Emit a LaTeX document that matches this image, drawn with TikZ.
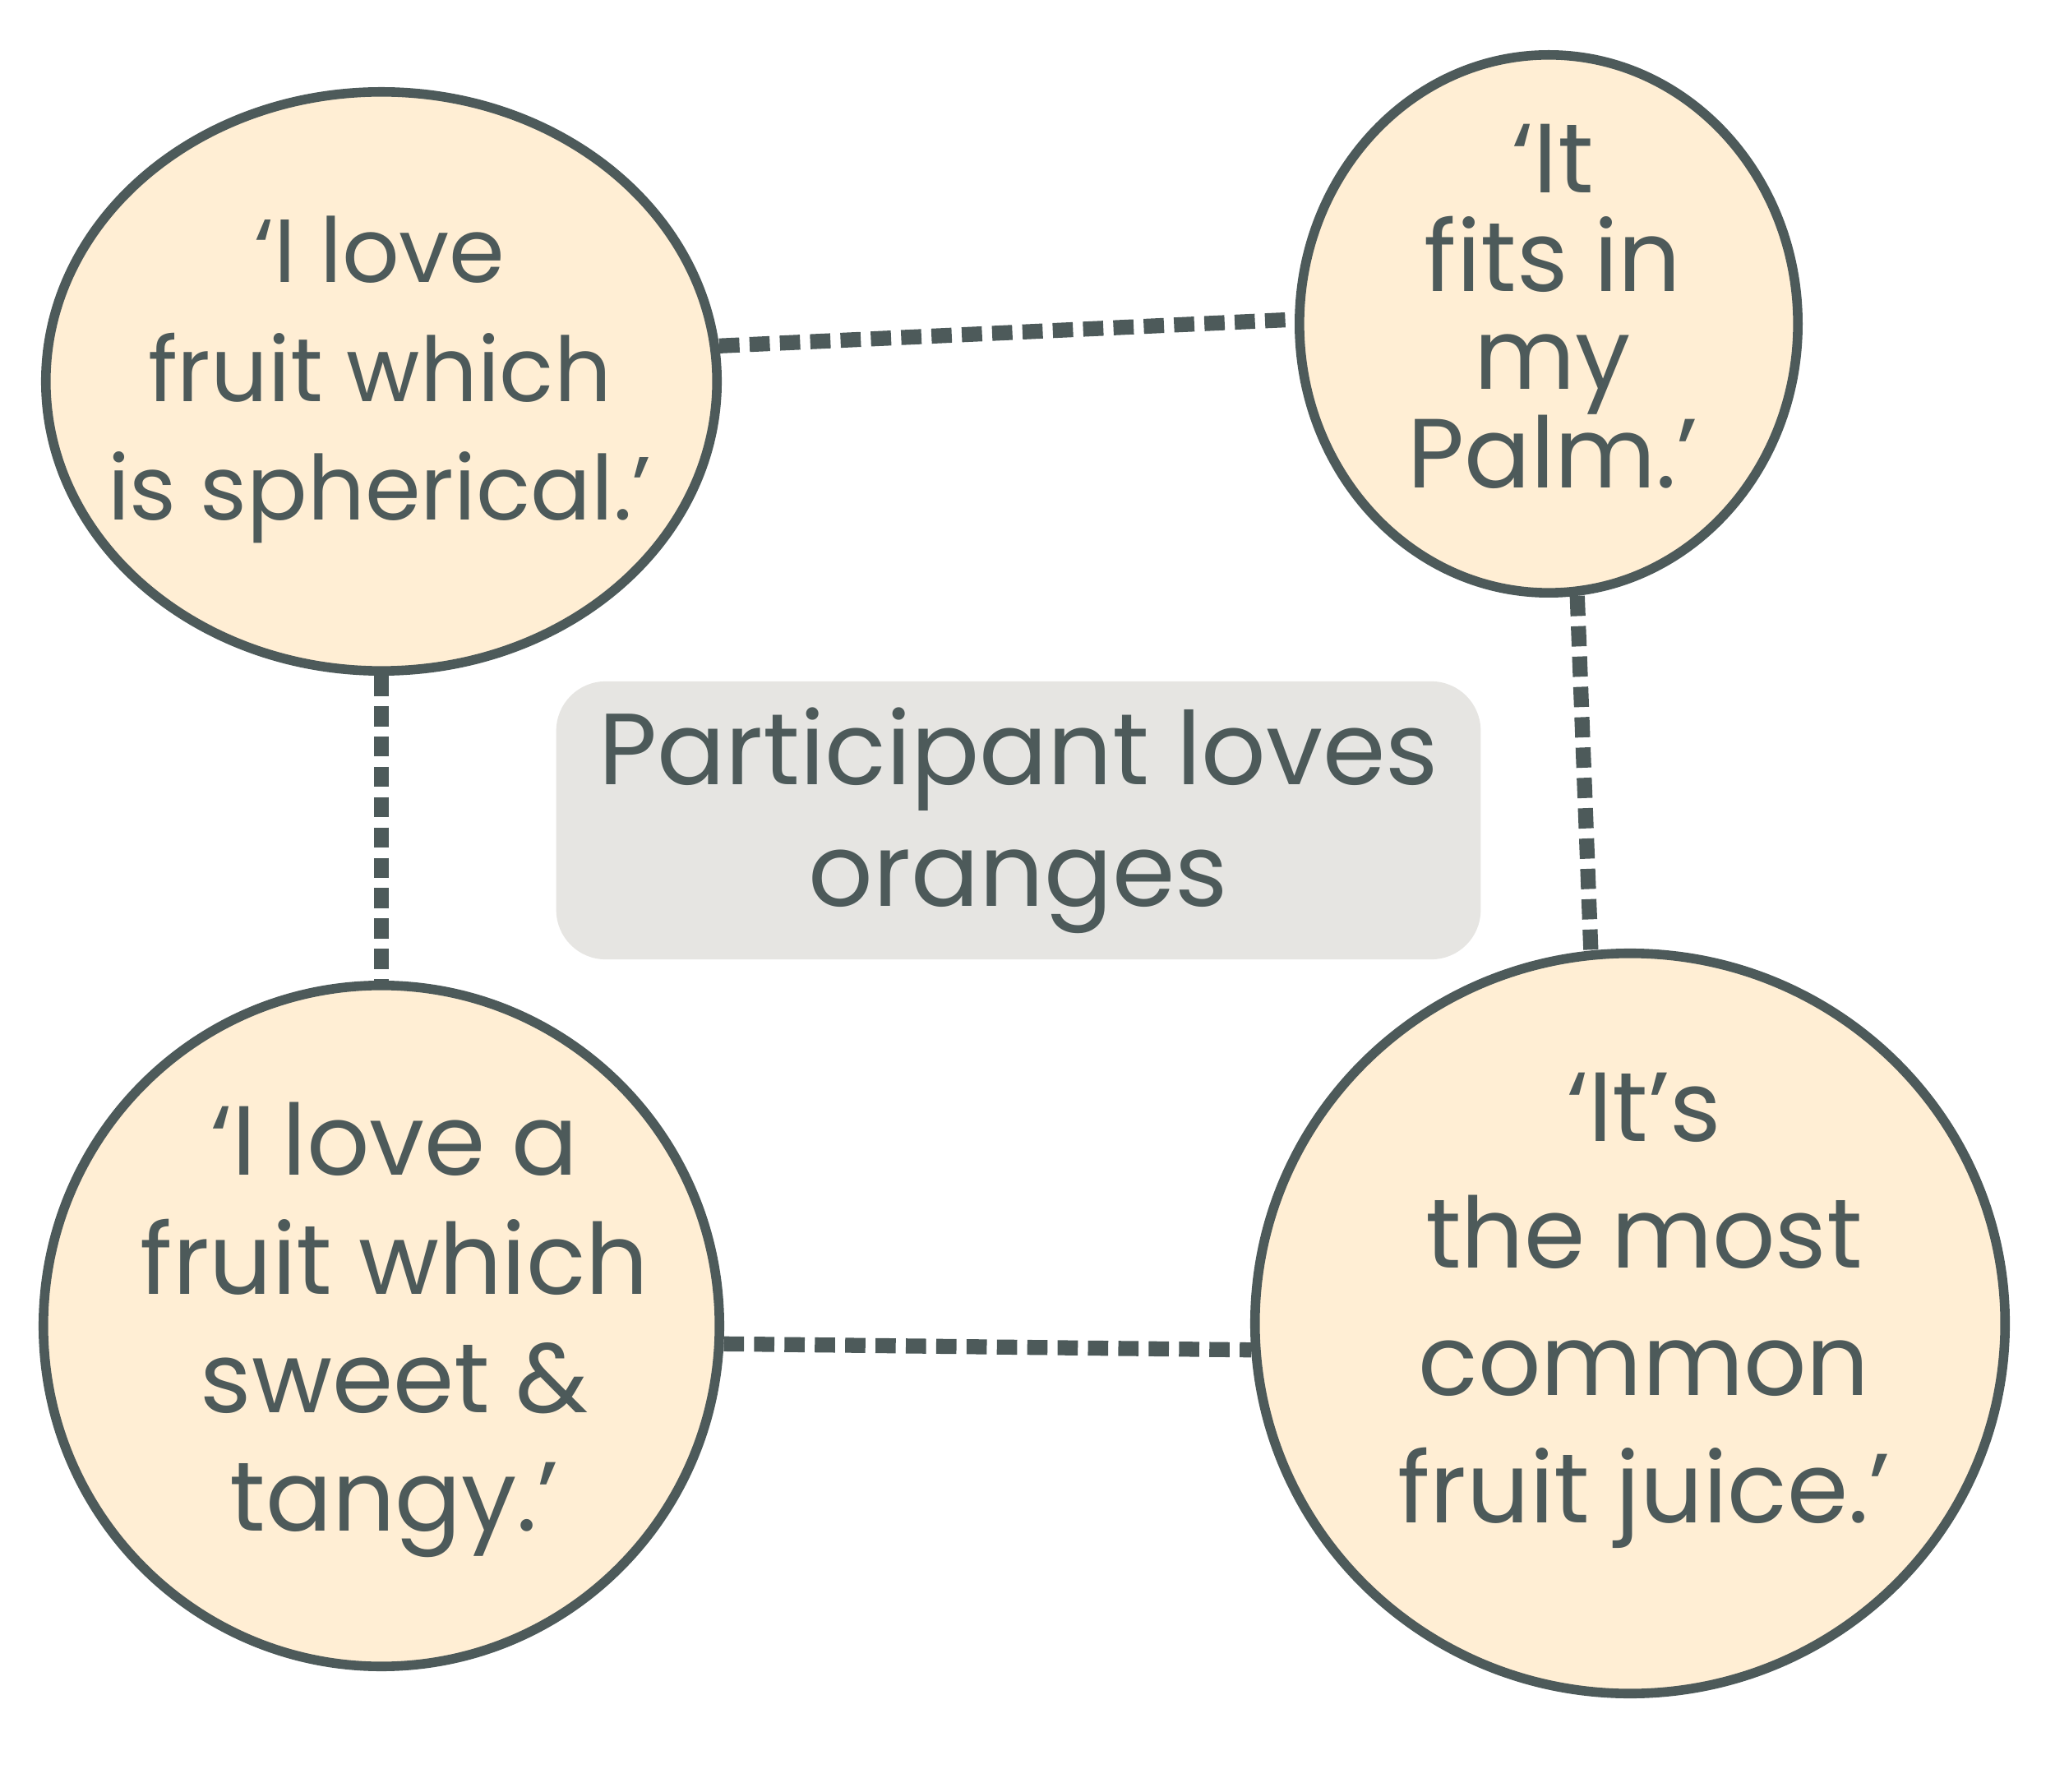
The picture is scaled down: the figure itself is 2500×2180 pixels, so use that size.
\documentclass[tikz,border=0pt]{standalone}
\usepackage{fontspec}
\setmainfont{Poppins}
\usetikzlibrary{shapes.geometric}
\definecolor{cInk}{RGB}{77,90,90}
\definecolor{cPeel}{RGB}{255,238,212}
\definecolor{cNote}{RGB}{230,229,226}
\tikzset{
  bubble/.style={ellipse,draw=cInk,fill=cPeel,line width=3.3pt,inner sep=0pt},
  quote/.style={align=center,text=cInk,font=\fontsize{34}{41}\selectfont},
  link/.style={draw=cInk,line width=5.2pt,dash pattern=on 7pt off 3.5pt}
}

\begin{document}
\begin{tikzpicture}[x=0.01cm,y=-0.01cm]
\useasboundingbox (0,0) rectangle (2500,2180);
% the four quotes
\node[bubble,minimum width=8.16cm,minimum height=7.04cm] (tl) at (464,464) {};
\node[bubble,minimum width=6.06cm,minimum height=6.54cm] (tr) at (1884,394) {};
\node[bubble,minimum width=8.22cm,minimum height=8.28cm] (bl) at (464,1613) {};
\node[bubble,minimum width=9.12cm,minimum height=9.0cm] (br) at (1983,1610) {};
\node[quote,font=\fontsize{31}{41}\selectfont] (tlq) at (462,462) {‘I love\\fruit which\\is spherical.’};
\node[quote,font=\fontsize{34}{34}\selectfont] (trq) at (1889,373) {‘It\\fits in\\my\\Palm.’};
\node[quote] (blq) at (480,1618) {‘I love a\\fruit which\\sweet \&\\tangy.’};
\node[quote,font=\fontsize{34}{44}\selectfont] (brq) at (2000,1594) {‘It’s\\the most\\common\\fruit juice.’};
% centre note
\node[fill=cNote,rounded corners=0.6cm,minimum width=11.24cm,minimum height=3.38cm,
  align=center,text=cInk,font=\fontsize{35}{42}\selectfont] (note) at (1239,998)
  {Participant loves\\oranges};
\draw[link] (tl.6) -- (tr.179);
\draw[link] (tl.south) -- (bl.north);
\draw[link] (tr.276) -- (br.96);
\draw[link] (bl.357) -- (br.184);
\end{tikzpicture}
\end{document}
